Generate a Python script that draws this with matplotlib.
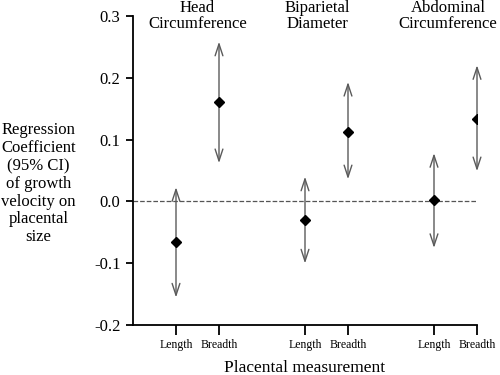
import numpy as np
import matplotlib.pyplot as plt

plt.rcParams['font.family'] = ['Liberation Serif', 'DejaVu Serif']

# --- data ---
groups = ['Head\nCircumference', 'Biparietal\nDiameter', 'Abdominal\nCircumference']
tick_labels = ['Length', 'Breadth', 'Length', 'Breadth', 'Length', 'Breadth']
x_pos = [1, 2, 4, 5, 7, 8]
group_label_x = [1.5, 4.28, 7.33]
coef = [-0.066, 0.161, -0.030, 0.113, 0.002, 0.134]
ci_low = [-0.155, 0.062, -0.100, 0.036, -0.075, 0.049]
ci_high = [0.023, 0.258, 0.040, 0.193, 0.078, 0.220]

fig = plt.figure(figsize=(5, 3.75), dpi=100)
ax = fig.add_axes([0.266, 0.1325, 0.688, 0.8255])

ax.set_xlim(0, 8)
ax.set_ylim(-0.2, 0.3)

# zero reference line
ax.plot([0, 8], [0, 0], linestyle='--', color='#555555', lw=0.9, zorder=1)

arrow_col = '#5a5a5a'
for x, lo, hi in zip(x_pos, ci_low, ci_high):
    ax.annotate('', xy=(x, hi), xytext=(x, lo),
                arrowprops=dict(arrowstyle='<->, head_length=0.85, head_width=0.28',
                                mutation_scale=10, color=arrow_col, lw=1.0,
                                shrinkA=0, shrinkB=0), zorder=2)
ax.plot(x_pos, coef, linestyle='None', marker='D', color='black', markersize=5.5, zorder=3)

for gx, g in zip(group_label_x, groups):
    ax.text(gx, 0.2995, g, ha='center', va='center', fontsize=12, linespacing=1.0)

ax.spines['top'].set_visible(False)
ax.spines['right'].set_visible(False)
ax.spines['left'].set_linewidth(1.3)
ax.spines['bottom'].set_linewidth(1.3)

ax.set_yticks([-0.2, -0.1, 0.0, 0.1, 0.2, 0.3])
ax.set_yticklabels(['-0.2', '-0.1', '0.0', '0.1', '0.2', '0.3'])
ax.tick_params(axis='y', direction='out', length=5, width=1.3, pad=4, labelsize=12)
ax.set_xticks(x_pos)
ax.set_xticklabels(tick_labels)
ax.tick_params(axis='x', direction='out', length=7, width=1.3, pad=3, labelsize=8.5)

ax.set_xlabel('Placental measurement', fontsize=12.5, labelpad=6)

fig.text(0.077, 0.51, 'Regression\nCoefficient\n(95% CI)\nof growth\nvelocity on\nplacental\nsize',
         ha='center', va='center', fontsize=12, linespacing=1.15)

fig.savefig('out.png', dpi=100)
